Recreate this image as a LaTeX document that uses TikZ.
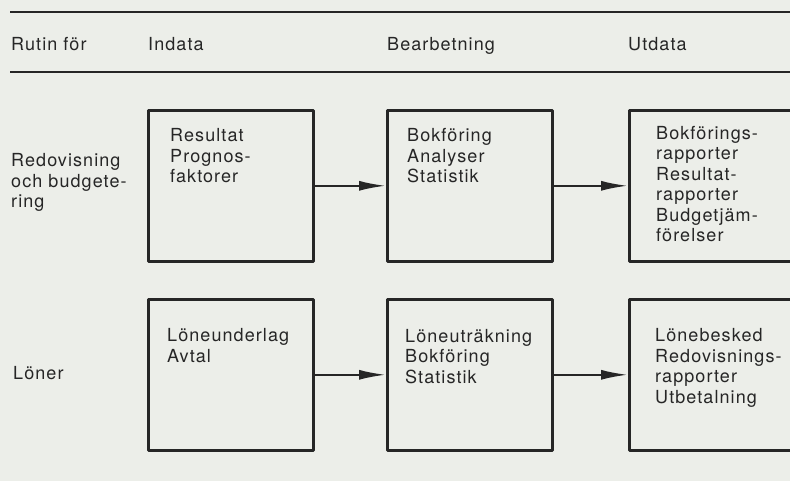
\documentclass[tikz,border=0pt]{standalone}
\usepackage{fontspec}
\setmainfont{TeX Gyre Heros}[LetterSpace=6]
\usetikzlibrary{arrows.meta}
\usetikzlibrary{positioning}

\definecolor{paper}{RGB}{236,238,233}
\definecolor{ink}{RGB}{38,38,38}

\tikzset{
  rad/.style = {anchor = base west, inner sep = 0, align = left,
    font = \fontsize{18}{20.5}\selectfont, text = ink},
  ruta/.style = {draw = ink, line width = 2.6pt, minimum width = 165pt,
    minimum height = 151pt, inner sep = 0, anchor = north west},
  pil/.style = {draw = ink, line width = 2.2pt,
    -{Latex[length = 27pt, width = 10pt]}}
}

\begin{document}
\begin{tikzpicture}[x = 1pt, y = -1pt, line join = round]
  \fill[paper] (0, 0) rectangle (790, 481);
  \useasboundingbox (0, 0) rectangle (790, 481);
  \clip (0, 0) rectangle (790, 481);

  % rubriker
  \draw[ink, line width = 2.2pt] (10, 12) -- (800, 12);
  \draw[ink, line width = 2.2pt] (10, 72) -- (800, 72);
  \node[rad] (rutin) at (11, 51) {Rutin för};
  \node[rad] (indata) at (148, 51) {Indata};
  \node[rad] (bearbetning) at (387, 51) {Bearbetning};
  \node[rad] (utdata) at (628, 51) {Utdata};

  % redovisning (base = sista raden)
  \node[rad] (redov) at (11, 208) {Redovisning\\och budgete-\\ring};
  \node[ruta] (in1) at (147, 109) {};
  \node[ruta] (be1) at (386, 109) {};
  \node[ruta, minimum width = 200pt] (ut1) at (628, 109) {};
  \node[rad] (in1text) at (170, 183) {Resultat\\Prognos-\\faktorer};
  \node[rad] (be1text) at (407, 183) {Bokföring\\Analyser\\Statistik};
  \node[rad] (ut1text) at (656, 242)
    {Bokförings-\\rapporter\\Resultat-\\rapporter\\Budgetjäm-\\förelser};
  \draw[pil] (in1) -- (be1);
  \draw[pil] (be1) -- (ut1.west);

  % löner
  \node[rad] (loner) at (13, 379) {Löner};
  \node[ruta] (in2) at (147, 298) {};
  \node[ruta] (be2) at (386, 298) {};
  \node[ruta, minimum width = 200pt] (ut2) at (628, 298) {};
  \node[rad] (in2text) at (167, 362) {Löneunderlag\\Avtal};
  \node[rad] (be2text) at (405, 383) {Löneuträkning\\Bokföring\\Statistik};
  \node[rad] (ut2text) at (655, 403)
    {Lönebesked\\Redovisnings-\\rapporter\\Utbetalning};
  \draw[pil] (in2) -- (be2);
  \draw[pil] (be2) -- (ut2.west);
\end{tikzpicture}
\end{document}
